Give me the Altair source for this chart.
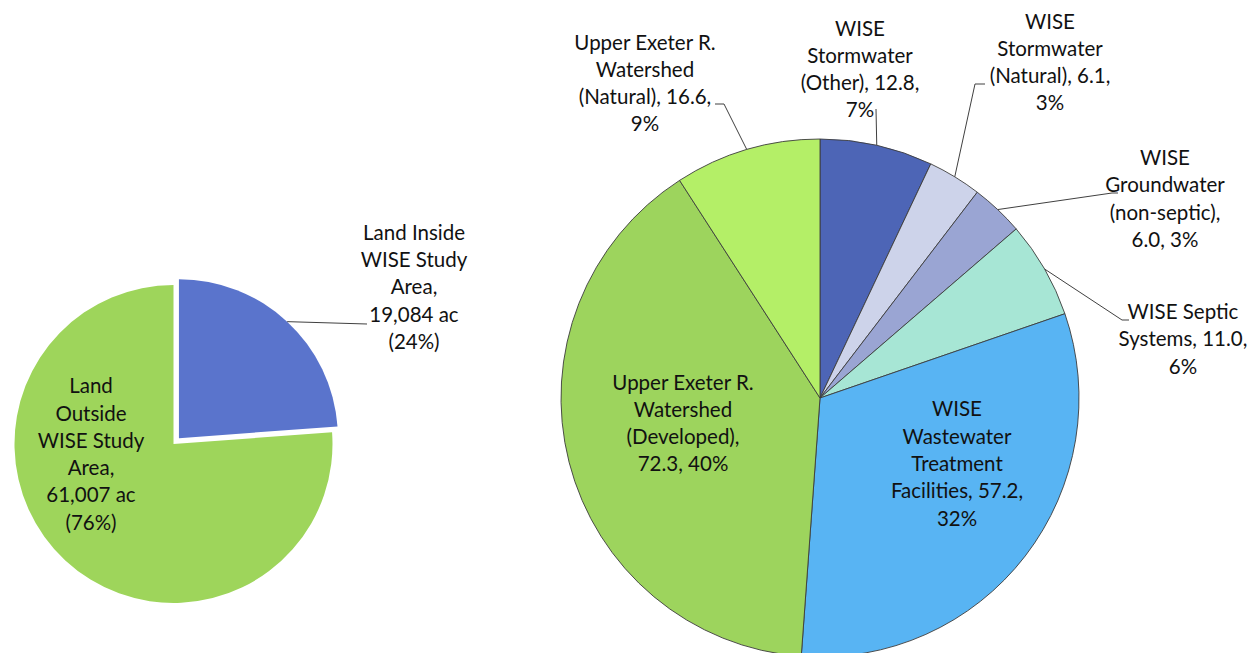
import math
import altair as alt
import pandas as pd

# ---------------- data ----------------
left_names = ["Land Inside WISE Study Area", "Land Outside WISE Study Area"]
left_acres = [19084, 61007]
left_labels = ["Land Inside\nWISE Study\nArea,\n19,084 ac\n(24%)",
               "Land\nOutside\nWISE Study\nArea,\n61,007 ac\n(76%)"]
left_colors = ["#5a74cc", "#9ed55b"]

right_names = ["WISE Stormwater (Other)", "WISE Stormwater (Natural)",
               "WISE Groundwater (non-septic)", "WISE Septic Systems",
               "WISE Wastewater Treatment Facilities",
               "Upper Exeter R. Watershed (Developed)",
               "Upper Exeter R. Watershed (Natural)"]
right_values = [12.8, 6.1, 6.0, 11.0, 57.2, 72.3, 16.6]
right_labels = ["WISE\nStormwater\n(Other), 12.8,\n7%",
                "WISE\nStormwater\n(Natural), 6.1,\n3%",
                "WISE\nGroundwater\n(non-septic),\n6.0, 3%",
                "WISE Septic\nSystems, 11.0,\n6%",
                "WISE\nWastewater\nTreatment\nFacilities, 57.2,\n32%",
                "Upper Exeter R.\nWatershed\n(Developed),\n72.3, 40%",
                "Upper Exeter R.\nWatershed\n(Natural), 16.6,\n9%"]
right_colors = ["#4d65b6", "#cdd3ea", "#9aa5d3", "#a7e6d5", "#58b4f3",
                "#9dd45d", "#b4ef67"]

# ---------------- layout (pixels in the plot area) ----------------
OFF = 8  # page margin
L_CX, L_CY, L_R = 173.5 - OFF, 444 - OFF, 159
EXPLODE = 8
R_CX, R_CY, R_R = 820 - OFF, 398 - OFF, 259
FONT = "Lato"
FS = 20.5
LH = 27.3

# centre of each label block (image pixels)
left_label_pos = [(414, 288.5), (91, 455.5)]
right_label_pos = [(860, 70.5), (1050, 63.5), (1165, 200), (1183, 340.5),
                   (957, 465), (683, 424.5), (645, 84.5)]
# leader line points near the label (elbow, optional tick end); None = inside label
left_leaders = [[(367, 324)], None]
right_leaders = [[(876, 109)], [(975, 84), (985, 84)], [(1112, 193), (1118, 193)],
                 [(1122, 320), (1129, 320)], None, None, [(724, 104), (715, 104)]]


def build(names, values, labels):
    df = pd.DataFrame({"name": names, "value": values, "label": labels})
    tot = df["value"].sum()
    df["t1"] = df["value"].cumsum() / tot
    df["t0"] = df["t1"] - df["value"] / tot
    df["mid"] = (df["t0"] + df["t1"]) / 2
    return df


ldf = build(left_names, left_acres, left_labels)
rdf = build(right_names, right_values, right_labels)

all_names = left_names + right_names
all_colors = left_colors + right_colors
color = alt.Color("name:N", scale=alt.Scale(domain=all_names, range=all_colors), legend=None)
theta = alt.Theta("t0:Q", scale=alt.Scale(domain=[0, 1], range=[0, 2 * math.pi]))


def arc_layer(df, cx, cy, r, **mk):
    return alt.Chart(df).mark_arc(radius=r, **mk).encode(
        x=alt.value(cx), y=alt.value(cy), theta=theta, theta2="t1", color=color)


# left pie: exploded inside slice
bis = ldf.loc[0, "mid"] * 2 * math.pi
ex_dx, ex_dy = EXPLODE * math.sin(bis), -EXPLODE * math.cos(bis)
left_green = arc_layer(ldf.iloc[[1]], L_CX, L_CY, L_R)
left_blue = arc_layer(ldf.iloc[[0]], L_CX + ex_dx, L_CY + ex_dy, L_R)
right_pie = arc_layer(rdf, R_CX, R_CY, R_R, stroke="#3c3c3c", strokeWidth=0.9)

# leader lines
rows = []
def add_leaders(df, leaders, cx, cy, r, key):
    for i, pts in enumerate(leaders):
        if pts is None:
            continue
        a = df.loc[i, "mid"] * 2 * math.pi
        seq = [(cx + r * math.sin(a), cy - r * math.cos(a))] + [(px - OFF, py - OFF) for px, py in pts]
        for j, (px, py) in enumerate(seq):
            rows.append({"id": f"{key}{i}", "o": j, "px": px, "py": py})

add_leaders(ldf, left_leaders, L_CX + ex_dx, L_CY + ex_dy, L_R, "L")
add_leaders(rdf, right_leaders, R_CX, R_CY, R_R, "R")
lead_df = pd.DataFrame(rows)
leaders = alt.Chart(lead_df).mark_line(color="#404040", strokeWidth=1).encode(
    x=alt.X("px:Q", scale=None), y=alt.Y("py:Q", scale=None),
    detail="id:N", order="o:Q")

# labels: vega puts the first line at y, so shift each block up by half its height
all_labels = left_labels + right_labels
all_pos = left_label_pos + right_label_pos
lab_df = pd.DataFrame({
    "label": all_labels,
    "lx": [p[0] - OFF for p in all_pos],
    "ly": [p[1] - OFF - (t.count("\n")) * LH / 2 for p, t in zip(all_pos, all_labels)],
})
labels = alt.Chart(lab_df).mark_text(
    font=FONT, fontSize=FS, lineHeight=LH, lineBreak="\n", align="center",
    baseline="middle", color="#111111").encode(
    x=alt.X("lx:Q", scale=None), y=alt.Y("ly:Q", scale=None), text="label:N")

chart = alt.layer(left_green, left_blue, right_pie, leaders, labels).properties(
    width=1240, height=700, padding=0, autosize="none"
).configure_view(stroke=None)

chart.save("out.html", embed_options={"renderer": "svg", "actions": False})
